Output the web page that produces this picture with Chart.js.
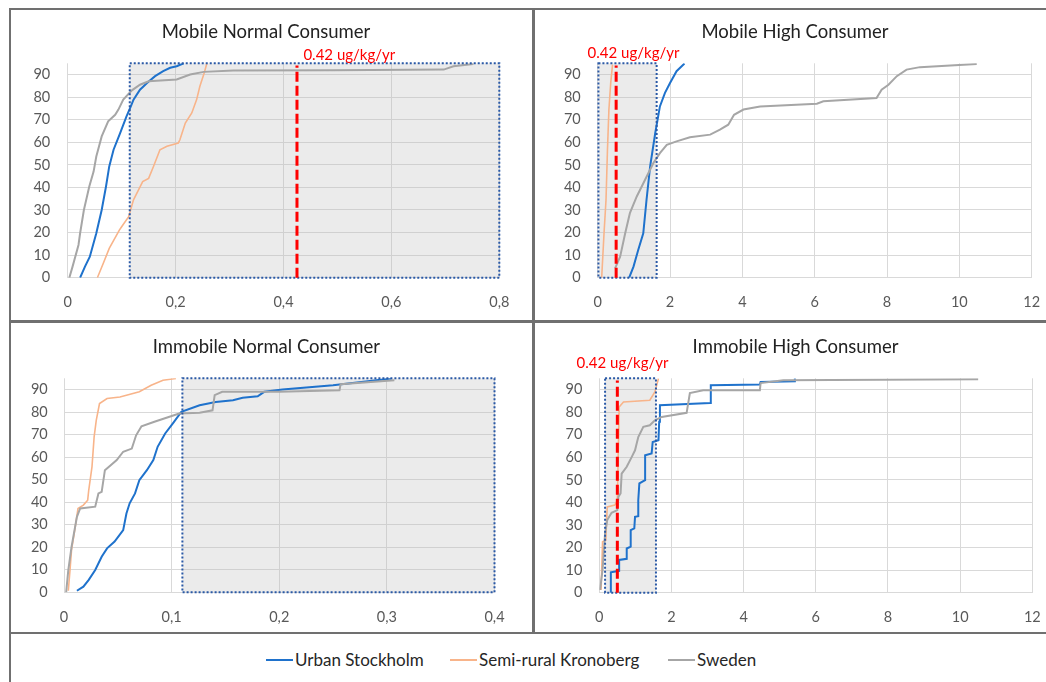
<!DOCTYPE html>
<html>
<head>
<meta charset="utf-8">
<script src="https://cdn.jsdelivr.net/npm/chart.js@4.4.1/dist/chart.umd.min.js"></script>
<style>
  body { margin: 0; background: #fff; width: 1046px; height: 682px; overflow: hidden; position: relative; font-family: Lato, sans-serif; }
  .rule { position: absolute; background: #707070; }
  canvas { position: absolute; }
  .key { position: absolute; top: 649px; display: flex; align-items: center; font-size: 17px; color: #262626; white-space: nowrap; }
  .key i { display: inline-block; width: 27px; height: 2px; margin-right: 2px; }
</style>
</head>
<body>
<canvas id="mobileNormal" width="510" height="310" style="left:11px;top:10px"></canvas>
<canvas id="mobileHigh" width="520" height="310" style="left:535px;top:10px"></canvas>
<canvas id="immobileNormal" width="510" height="309" style="left:11px;top:323px"></canvas>
<canvas id="immobileHigh" width="521" height="309" style="left:535px;top:323px"></canvas>

<div class="rule" style="left:9px;top:8px;width:1037px;height:2px"></div>
<div class="rule" style="left:9px;top:320px;width:1037px;height:3px"></div>
<div class="rule" style="left:9px;top:632px;width:1037px;height:2px"></div>
<div class="rule" style="left:9px;top:8px;width:2px;height:674px"></div>
<div class="rule" style="left:532px;top:8px;width:3px;height:626px"></div>

<div class="key" style="left:266px"><i style="background:#1f72cc"></i>Urban Stockholm</div>
<div class="key" style="left:450px"><i style="background:#f8b48a"></i>Semi-rural Kronoberg</div>
<div class="key" style="left:668px"><i style="background:#a6a6a6"></i>Sweden</div>

<script>
// series names
const seriesNames = ["Urban Stockholm", "Semi-rural Kronoberg", "Sweden"];
const seriesColors = ["#1f72cc", "#f8b48a", "#a6a6a6"];

// tick labels
const yTicks = [0, 10, 20, 30, 40, 50, 60, 70, 80, 90];
const mobileNormalTicks = [0, 0.2, 0.4, 0.6, 0.8];
const immobileNormalTicks = [0, 0.1, 0.2, 0.3, 0.4];
const highTicks = [0, 2, 4, 6, 8, 10, 12];

// curves: [exposure, percentile]
const mobileNormalUrban = [[0.023,0],[0.032,4.9],[0.041,9.3],[0.053,19.7],[0.063,30],[0.071,40.4],[0.077,49.3],[0.085,56.7],[0.097,64],[0.109,71.5],[0.117,75.9],[0.122,78.9],[0.134,83.3],[0.147,86.3],[0.162,89.3],[0.177,91.5],[0.19,93],[0.202,93.7],[0.215,95]];
const mobileNormalKronoberg = [[0.055,0],[0.066,6.4],[0.077,13],[0.096,21.2],[0.1,22.6],[0.113,27],[0.122,34.5],[0.139,42.6],[0.15,44],[0.159,49.3],[0.171,56.7],[0.184,58.2],[0.205,59.7],[0.208,61.1],[0.218,68.5],[0.23,73],[0.239,78.9],[0.245,84.8],[0.253,90.7],[0.258,95]];
const mobileNormalSweden = [[0.003,0],[0.009,4.9],[0.02,14.5],[0.023,19.7],[0.03,30],[0.04,40.4],[0.048,47],[0.053,53.7],[0.063,62.6],[0.075,69.3],[0.088,72.2],[0.094,74.5],[0.103,78.9],[0.119,83],[0.134,85.5],[0.15,87],[0.202,87.8],[0.227,90],[0.252,91.2],[0.307,91.8],[0.493,91.9],[0.697,92.2],[0.715,93.7],[0.752,94.7]];

const mobileHighUrban = [[0.87,0],[0.99,4.9],[1.12,12.3],[1.26,19.7],[1.35,34.5],[1.45,49.3],[1.59,64],[1.72,75.9],[1.86,81.9],[2.0,86.3],[2.18,91.5],[2.4,94.9]];
const mobileHighKronoberg = [[0.11,0],[0.175,19.7],[0.23,34.5],[0.27,56.7],[0.31,74.5],[0.36,86.3],[0.41,94.4]];
const mobileHighSweden = [[0.48,4.1],[0.62,9.3],[0.76,19.7],[0.89,28.6],[1.08,36],[1.31,43.4],[1.54,50.8],[1.72,55.2],[1.91,58.9],[2.18,60.4],[2.55,62.2],[3.11,63.4],[3.38,65.6],[3.61,67.8],[3.77,72.2],[4.03,74.5],[4.49,75.9],[6.06,77.1],[6.24,78.2],[7.71,79.6],[7.85,83.3],[8.04,85.5],[8.27,89.3],[8.54,92.2],[8.91,93.3],[10.48,94.7]];

const immobileNormalUrban = [[0.012,0.7],[0.018,2.5],[0.023,5.5],[0.029,9.9],[0.035,15.8],[0.04,19.5],[0.047,22.5],[0.055,27.6],[0.058,35],[0.061,39.5],[0.066,43.9],[0.07,49.8],[0.077,54.2],[0.083,58.7],[0.087,64.6],[0.094,70.5],[0.101,74.9],[0.109,80.1],[0.126,83],[0.141,84.5],[0.157,85.3],[0.166,86.4],[0.18,87],[0.186,89],[0.203,90],[0.25,91.9],[0.304,94.9]];
const immobileNormalKronoberg = [[0.004,0.7],[0.0056,9.9],[0.007,18.8],[0.01,27.6],[0.013,37.2],[0.018,38.7],[0.022,40.9],[0.023,45.4],[0.026,55.7],[0.028,69],[0.03,76.4],[0.033,83.8],[0.04,86],[0.052,86.7],[0.07,89],[0.081,91.9],[0.092,94.1],[0.104,94.9]];
const immobileNormalSweden = [[0.002,0],[0.004,9.9],[0.007,20.2],[0.012,33.5],[0.015,37.2],[0.029,38],[0.032,43.9],[0.035,44.6],[0.038,54.2],[0.049,58.7],[0.055,62.4],[0.063,63.8],[0.067,69.7],[0.072,73.7],[0.084,75.7],[0.098,77.9],[0.107,79.4],[0.126,79.7],[0.138,80.8],[0.14,87.5],[0.147,89],[0.2,89],[0.256,89.7],[0.257,92.4],[0.307,94.1]];

const immobileHighUrban = [[0.32,0],[0.32,9],[0.55,9.7],[0.55,14.5],[0.76,15],[0.76,19.6],[0.87,20.4],[0.87,27.7],[0.97,28.5],[0.99,33.6],[1.08,33.9],[1.08,41],[1.11,48.4],[1.27,49.9],[1.27,60.9],[1.45,61.7],[1.48,66.8],[1.64,67.6],[1.66,75.7],[1.68,83.1],[3.07,84.1],[3.09,91.9],[4.45,92.2],[4.47,93.4],[5.42,93.7],[5.42,94.9]];
const immobileHighKronoberg = [[0.05,1.2],[0.09,22.6],[0.18,23.3],[0.22,38],[0.43,38.8],[0.5,41],[0.55,82.3],[0.67,84.5],[1.4,85.3],[1.54,89],[1.64,94.9]];
const immobileHighSweden = [[0.02,1.2],[0.09,10],[0.16,26.3],[0.22,32.2],[0.34,35.4],[0.5,36.6],[0.53,42.5],[0.59,44],[0.62,52.8],[0.76,55.8],[0.9,60.2],[0.99,63.1],[1.08,69],[1.22,73.5],[1.4,74.2],[1.54,76.4],[1.73,77.9],[2.42,79.7],[2.51,88.5],[2.88,89.7],[4.45,89.7],[4.47,92.9],[5.1,94.1],[10.5,94.6]];

// shaded range [x0, x1, y0, y1] and the 0.42 reference line
const mobileNormalBox = [0.115, 0.8, 0, 95];
const mobileHighBox = [0.02, 1.63, 0, 95];
const immobileNormalBox = [0.11, 0.4, 0, 95];
const immobileHighBox = [0.16, 1.57, 0, 95];
const refLabel = "0.42 ug/kg/yr";

function fmt(v) {
  return String(Number(v.toFixed(2))).replace(".", ",");
}

// panel title, grey box, dotted frame, red dashed line
const zonePlugin = {
  id: "zone",
  beforeDatasetsDraw(chart, args, opts) {
    const { ctx, scales: { x, y } } = chart;
    const l = x.getPixelForValue(opts.box[0]), r = x.getPixelForValue(opts.box[1]);
    const b = y.getPixelForValue(opts.box[2]), t = y.getPixelForValue(opts.box[3]);
    ctx.save();
    ctx.fillStyle = "rgba(190,190,190,0.3)";
    ctx.fillRect(l, t, r - l, b - t);
    ctx.restore();
  },
  afterDatasetsDraw(chart, args, opts) {
    const { ctx, scales: { x, y } } = chart;
    const l = x.getPixelForValue(opts.box[0]), r = x.getPixelForValue(opts.box[1]);
    const b = y.getPixelForValue(opts.box[2]), t = y.getPixelForValue(opts.box[3]);
    ctx.save();
    ctx.strokeStyle = "#2a59a6";
    ctx.lineWidth = 2;
    ctx.setLineDash([2, 2]);
    ctx.strokeRect(l, t, r - l, b - t);
    if (opts.ref != null) {
      const rx = x.getPixelForValue(opts.ref);
      ctx.strokeStyle = "#ff0000";
      ctx.lineWidth = 3;
      ctx.setLineDash([10, 4]);
      ctx.beginPath();
      ctx.moveTo(rx, y.getPixelForValue(0));
      ctx.lineTo(rx, y.getPixelForValue(94));
      ctx.stroke();
      ctx.fillStyle = "#ff0000";
      ctx.font = "15px Lato";
      ctx.textAlign = "center";
      ctx.textBaseline = "middle";
      ctx.fillText(refLabel, x.getPixelForValue(opts.labelAt[0]), y.getPixelForValue(opts.labelAt[1]));
    }
    ctx.restore();
  },
  afterDraw(chart, args, opts) {
    const ctx = chart.ctx;
    ctx.save();
    ctx.fillStyle = "#222";
    ctx.font = "18.5px Lato";
    ctx.textAlign = "center";
    ctx.textBaseline = "middle";
    ctx.fillText(opts.title, opts.titleAt[0], opts.titleAt[1]);
    ctx.restore();
  }
};

function makePanel(id, title, curves, xTicks, box, ref, labelAt, lay) {
  const datasets = curves.map((pts, i) => ({
    label: seriesNames[i],
    data: pts.map(p => ({ x: p[0], y: p[1] })),
    borderColor: seriesColors[i],
    borderWidth: i === 1 ? 1.6 : 2,
    pointRadius: 0,
    tension: 0,
    order: 2 - i
  }));

  new Chart(document.getElementById(id), {
    type: "line",
    data: { datasets },
    plugins: [zonePlugin],
    options: {
      responsive: false,
      animation: false,
      events: [],
      layout: { padding: { left: 0, right: lay.padR, top: lay.padT, bottom: 0 } },
      plugins: {
        legend: { display: false },
        tooltip: { enabled: false },
        title: { display: false },
        zone: { box, ref, labelAt, title, titleAt: lay.titleAt }
      },
      scales: {
        x: {
          type: "linear",
          min: xTicks[0],
          max: xTicks[xTicks.length - 1],
          afterBuildTicks: s => { s.ticks = xTicks.map(v => ({ value: v })); },
          afterFit: s => { s.height = lay.xH; s.paddingLeft = 0; s.paddingRight = 0; },
          grid: { color: "#d9d9d9", drawTicks: false },
          border: { display: false },
          ticks: {
            padding: 16,
            color: "#595959",
            font: { family: "Lato", size: 14.5 },
            callback: v => fmt(v)
          }
        },
        y: {
          min: 0,
          max: 95,
          afterBuildTicks: s => { s.ticks = yTicks.map(v => ({ value: v })); },
          afterFit: s => { s.width = lay.yW; s.paddingTop = 0; s.paddingBottom = 0; },
          grid: { color: "#d9d9d9", drawTicks: false },
          border: { display: false },
          ticks: {
            padding: lay.yPad,
            color: "#595959",
            font: { family: "Lato", size: 14.5 }
          }
        }
      }
    }
  });
}

makePanel("mobileNormal", "Mobile Normal Consumer",
  [mobileNormalUrban, mobileNormalKronoberg, mobileNormalSweden],
  mobileNormalTicks, mobileNormalBox, 0.425, [0.522, 98.7],
  { padR: 21.7, padT: 53.3, yW: 56.7, yPad: 17.5, xH: 42.3, titleAt: [255, 22] });

makePanel("mobileHigh", "Mobile High Consumer",
  [mobileHighUrban, mobileHighKronoberg, mobileHighSweden],
  highTicks, mobileHighBox, 0.51, [0.99, 99.7],
  { padR: 23.3, padT: 53.3, yW: 62.7, yPad: 17, xH: 42.3, titleAt: [260, 22] });

makePanel("immobileNormal", "Immobile Normal Consumer",
  [immobileNormalUrban, immobileNormalKronoberg, immobileNormalSweden],
  immobileNormalTicks, immobileNormalBox, null, null,
  { padR: 26.5, padT: 55.3, yW: 53, yPad: 16.3, xH: 39.7, titleAt: [255.3, 23.7] });

makePanel("immobileHigh", "Immobile High Consumer",
  [immobileHighUrban, immobileHighKronoberg, immobileHighSweden],
  highTicks, immobileHighBox, 0.5, [0.643, 101.6],
  { padR: 23.7, padT: 55.3, yW: 64.3, yPad: 17, xH: 39.3, titleAt: [260.5, 23.7] });
</script>
</body>
</html>
